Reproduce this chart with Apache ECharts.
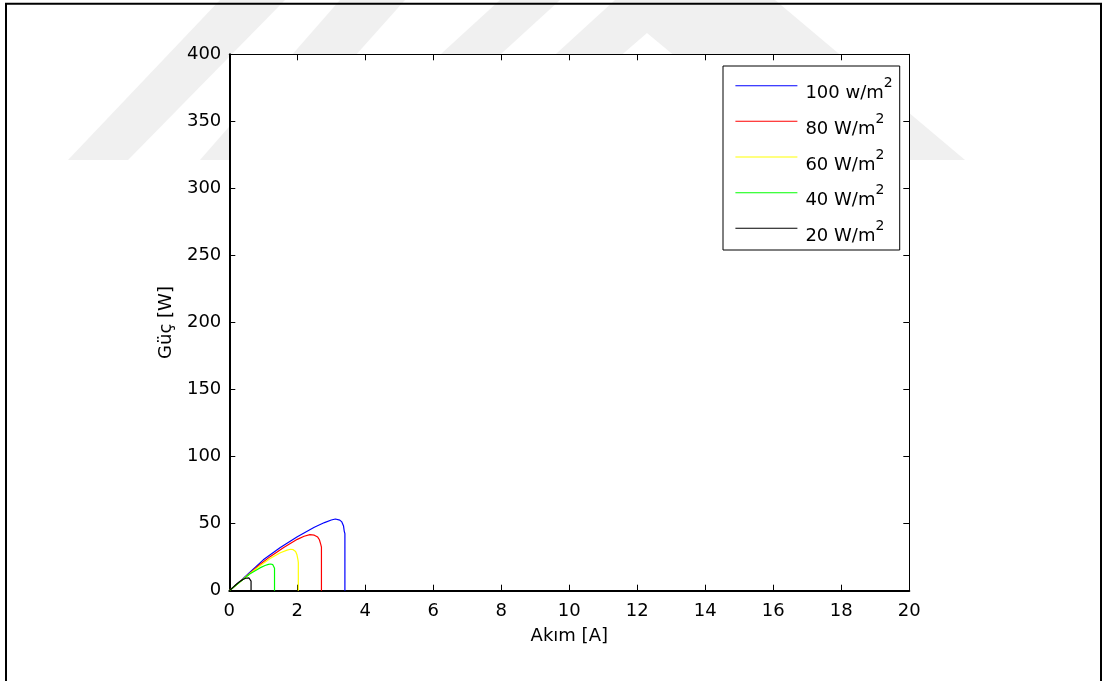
<!DOCTYPE html>
<html>
<head>
<meta charset="utf-8">
<script src="https://cdn.jsdelivr.net/npm/echarts@6/dist/echarts.min.js"></script>
<style>html,body{margin:0;padding:0;background:#fff}#c{width:1108px;height:681px}</style>
</head>
<body>
<div id="c"></div>
<script>
// ---- data ----
const seriesNames = ['100 w/m²', '80 W/m²', '60 W/m²', '40 W/m²', '20 W/m²'];
const seriesColors = ['#0000ff', '#ff0000', '#ffff00', '#00ff00', '#000000'];

const current100 = [0, 0.3, 0.6, 1.0, 1.5, 2.0, 2.5, 2.8, 3.0, 3.12, 3.25, 3.31, 3.36, 3.38, 3.40, 3.40];
const power100   = [0, 6.6, 13.6, 23.0, 32.2, 40.3, 47.3, 50.8, 52.7, 53.5, 52.6, 51.3, 48.2, 44.5, 42.5, 0];

const current80 = [0, 0.3, 0.6, 0.9, 1.2, 1.6, 2.0, 2.2, 2.37, 2.5, 2.6, 2.65, 2.69, 2.71, 2.71];
const power80   = [0, 6.4, 12.9, 19.5, 25.4, 32.2, 38.3, 40.6, 41.8, 41.4, 40.0, 38.0, 34.5, 32.5, 0];

const current60 = [0, 0.3, 0.6, 0.9, 1.2, 1.5, 1.7, 1.8, 1.88, 1.95, 1.99, 2.02, 2.03, 2.03];
const power60   = [0, 6.3, 12.6, 18.6, 24.0, 28.3, 30.3, 30.9, 30.6, 29.2, 26.8, 23.0, 21.0, 0];

const current40 = [0, 0.3, 0.6, 0.9, 1.05, 1.15, 1.22, 1.28, 1.31, 1.33, 1.33];
const power40   = [0, 6.2, 12.4, 17.0, 18.8, 19.6, 19.9, 19.4, 18.3, 16.8, 0];

const current20 = [0, 0.1, 0.2, 0.3, 0.4, 0.48, 0.53, 0.58, 0.62, 0.64, 0.64];
const power20   = [0, 2.3, 4.6, 6.7, 8.4, 9.3, 9.7, 9.5, 8.7, 7.2, 0];

const currents = [current100, current80, current60, current40, current20];
const powers = [power100, power80, power60, power40, power20];

const xMin = 0, xMax = 20, xStep = 2;
const yMin = 0, yMax = 400, yStep = 50;
const xName = 'Akım [A]';
const yName = 'Güç [W]';

// ---- chart ----
const FONT = '"DejaVu Sans", "Liberation Sans", Arial, sans-serif';
const chart = echarts.init(document.getElementById('c'), null, {renderer: 'canvas'});

const grey = '#f0f0f0';
const option = {
  animation: false,
  backgroundColor: '#fff',
  textStyle: {fontFamily: FONT},
  grid: {
    left: 229.3, right: 198.7, top: 54.3, bottom: 90.3,
    show: true, backgroundColor: '#fff', borderWidth: 0
  },
  graphic: [
    {type: 'polygon', z: -10, silent: true, shape: {points: [[68,160],[128,160],[285,0],[220,0]]}, style: {fill: grey}},
    {type: 'polygon', z: -10, silent: true, shape: {points: [[200,160],[262,160],[405,0],[340,0]]}, style: {fill: grey}},
    {type: 'polygon', z: -10, silent: true, shape: {points: [[325,160],[385,160],[560,0],[500,0]]}, style: {fill: grey}},
    {type: 'polygon', z: -10, silent: true, shape: {points: [[440,160],[615,0],[775,0],[965,160],[800,160],[647,33],[500,160]]}, style: {fill: grey}},
    {type: 'rect', z: 100, silent: true, shape: {x: 6, y: 3.7, width: 1095, height: 720}, style: {fill: 'none', stroke: '#000', lineWidth: 2}}
  ],
  legend: {
    orient: 'vertical',
    left: 723, top: 66,
    padding: [2.7, 7, 4.7, 12.4],
    itemWidth: 62, itemHeight: 1, itemGap: 1.65,
    icon: 'rect',
    selectedMode: false,
    borderColor: '#000', borderWidth: 1, backgroundColor: '#fff',
    data: seriesNames,
    formatter: function (name) {
      const p = name.split('²');
      return '\u200b{n|' + p[0] + '}{s|2}';
    },
    textStyle: {
      color: '#000', fontFamily: FONT, fontSize: 18, lineHeight: 34,
      rich: {
        n: {fontFamily: FONT, fontSize: 18, color: '#000', lineHeight: 18, padding: [0, 0, 0, 3], verticalAlign: 'bottom'},
        s: {fontFamily: FONT, fontSize: 14, color: '#000', lineHeight: 14, padding: [0, 0, 4, 0], verticalAlign: 'middle'}
      }
    }
  },
  xAxis: [
    {
      type: 'value', min: xMin, max: xMax, interval: xStep, position: 'bottom',
      name: xName, nameLocation: 'middle', nameGap: 37,
      nameTextStyle: {color: '#000', fontSize: 18, fontFamily: FONT},
      axisLine: {show: true, onZero: false, lineStyle: {color: '#000', width: 2}},
      axisTick: {show: true, inside: true, length: 6, lineStyle: {color: '#000', width: 1}},
      axisLabel: {color: '#000', fontSize: 18, fontFamily: FONT, margin: 12},
      splitLine: {show: false}
    },
    {
      type: 'value', min: xMin, max: xMax, interval: xStep, position: 'top',
      axisLine: {show: true, onZero: false, lineStyle: {color: '#000', width: 1}},
      axisTick: {show: true, inside: true, length: 6, lineStyle: {color: '#000', width: 1}},
      axisLabel: {show: false},
      splitLine: {show: false}
    }
  ],
  yAxis: [
    {
      type: 'value', min: yMin, max: yMax, interval: yStep, position: 'left',
      name: yName, nameLocation: 'middle', nameGap: 54,
      nameTextStyle: {color: '#000', fontSize: 18, fontFamily: FONT},
      axisLine: {show: true, onZero: false, lineStyle: {color: '#000', width: 2}},
      axisTick: {show: true, inside: true, length: 6, lineStyle: {color: '#000', width: 1}},
      axisLabel: {color: '#000', fontSize: 18, fontFamily: FONT, margin: 8},
      splitLine: {show: false}
    },
    {
      type: 'value', min: yMin, max: yMax, interval: yStep, position: 'right',
      axisLine: {show: true, onZero: false, lineStyle: {color: '#000', width: 1}},
      axisTick: {show: true, inside: true, length: 6, lineStyle: {color: '#000', width: 1}},
      axisLabel: {show: false},
      splitLine: {show: false}
    }
  ],
  series: seriesNames.map(function (name, i) {
    return {
      name: name,
      type: 'line',
      xAxisIndex: 0, yAxisIndex: 0,
      symbol: 'none', showSymbol: false,
      smooth: false,
      color: seriesColors[i],
      lineStyle: {color: seriesColors[i], width: 1.2},
      data: currents[i].map(function (c, k) { return [c, powers[i][k]]; })
    };
  })
};
chart.setOption(option);
</script>
</body>
</html>
